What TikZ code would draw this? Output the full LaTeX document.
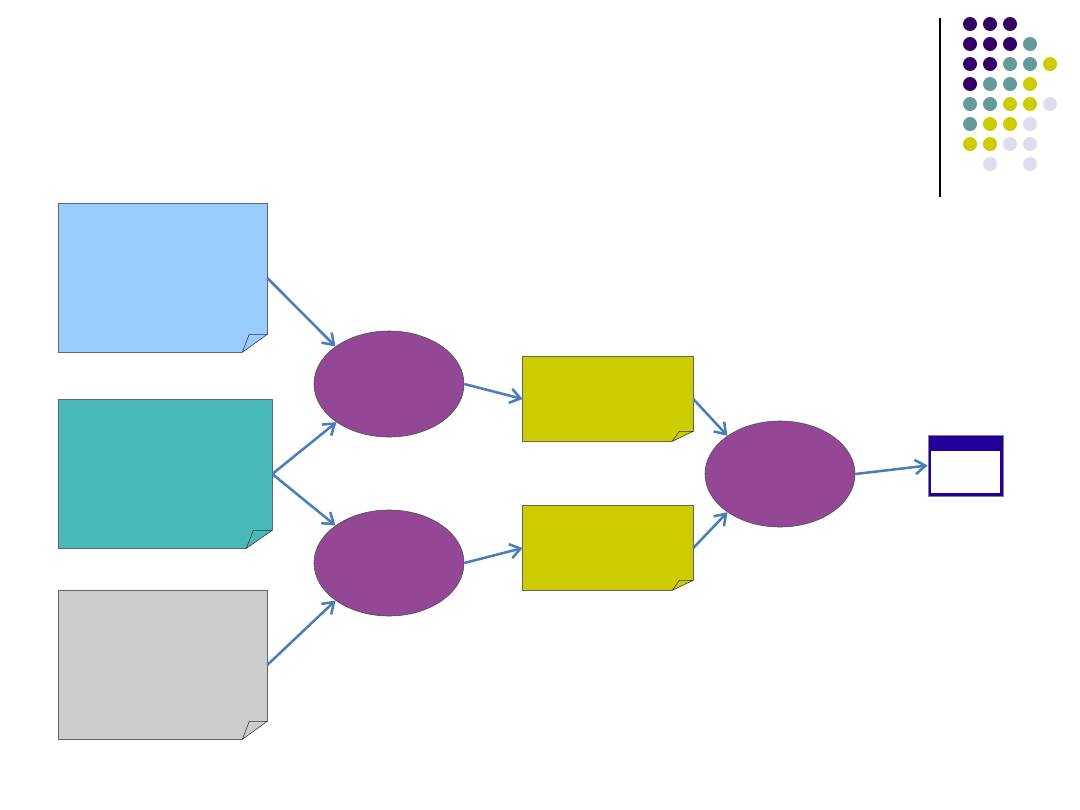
\documentclass[tikz,border=0pt]{standalone}
\usetikzlibrary{calc,arrows.meta,shapes.geometric}

\definecolor{noteblue}{HTML}{99CCFF}
\definecolor{noteteal}{HTML}{48B9B9}
\definecolor{notegray}{HTML}{CCCCCC}
\definecolor{noteyellow}{HTML}{CCCC00}
\definecolor{procpurple}{HTML}{934794}
\definecolor{flowblue}{HTML}{4A7EBB}
\definecolor{winblue}{HTML}{220099}
\definecolor{P}{HTML}{330066}
\definecolor{T}{HTML}{669999}
\definecolor{Y}{HTML}{CCCC00}
\definecolor{L}{HTML}{DDDDEE}
\definecolor{N}{HTML}{FFFFFF}

\tikzset{
  note/.style={rectangle, inner sep=0pt},
  process/.style={ellipse, draw=black!70, line width=0.4pt, fill=procpurple,
    minimum width=3.75cm, minimum height=2.65cm, inner sep=0pt},
  flow/.style={draw=flowblue, line width=1.8pt,
    -{Straight Barb[length=2.6mm,width=3.6mm,line width=1.8pt]}},
}

% dog-eared corner at the south east of a note
\newcommand{\dogear}[3]{%
  \path[fill=white] ($(#1.south east)+(-#2,0)$) -- (#1.south east)
    -- ($(#1.south east)+(0,-#3)$) -- cycle;
  \path[draw=black!60, line width=0.4pt] ($(#1.south east)+(-#2,0)$)
    -- (#1.south west) -- (#1.north west) -- (#1.north east)
    -- ($(#1.south east)+(0,-#3)$);
  \path[draw=black!80, line width=0.4pt] ($(#1.south east)+(-#2,0)$)
    -- ($(#1.south east)+(0,-#3)$)
    -- ($(#1.south east)+(-#2+7,-#3)$) -- cycle;
}

\begin{document}
\begin{tikzpicture}[x=0.025cm, y=-0.025cm]
    \useasboundingbox (0,0) rectangle (1080,810);
    % logo dots
    \path[draw, line width=0.8pt](940,18)to(940,197);
    \foreach \r/\row in {1/{P,P,P},2/{P,P,P,T},3/{P,P,T,T,Y},4/{P,T,T,Y},
        5/{T,T,Y,Y,L},6/{T,Y,Y,L},7/{Y,Y,L,L},8/{N,L,N,L}}{
      \foreach \c [count=\i] in \row {
        \path[fill=\c](950+20*\i,4+20*\r) circle (7);
      }
    }
    % input notes
    \node[note, fill=noteblue, minimum width=5.2cm, minimum height=3.7cm](inA)at(163,278){};
    \node[note, fill=noteteal, minimum width=5.325cm, minimum height=3.7cm](inB)at(165.5,474){};
    \node[note, fill=notegray, minimum width=5.2cm, minimum height=3.7cm](inC)at(163,665){};
    \dogear{inA}{25}{18}
    \dogear{inB}{26}{18}
    \dogear{inC}{25}{18}
    % processes
    \node[process](p1)at(389,384){};
    \node[process](p2)at(389,563){};
    \node[process](p3)at(780,474){};
    % intermediate notes
    \node[note, fill=noteyellow, minimum width=4.25cm, minimum height=2.1cm](mA)at(608,399){};
    \node[note, fill=noteyellow, minimum width=4.25cm, minimum height=2.1cm](mB)at(608,548){};
    \dogear{mA}{21}{10}
    \dogear{mB}{21}{10}
    % output window
    \node[rectangle, draw=black!50, fill=winblue, line width=0.4pt,
      minimum width=1.875cm, minimum height=1.525cm, inner sep=0pt](out)at(965.5,465.5){};
    \path[fill=white](931,451)rectangle(1000,493);
    % flows
    \path[flow](inA.east)to(p1.145);
    \path[flow](inB.east)to(p1.216);
    \path[flow](inB.east)to(p2.145);
    \path[flow](inC.east)to(p2.215);
    \path[flow](p1.east)to(mA.west);
    \path[flow](p2.east)to(mB.west);
    \path[flow](mA.east)to(p3.144);
    \path[flow](mB.east)to(p3.216);
    \path[flow](p3.east)to(out.west);
\end{tikzpicture}
\end{document}
